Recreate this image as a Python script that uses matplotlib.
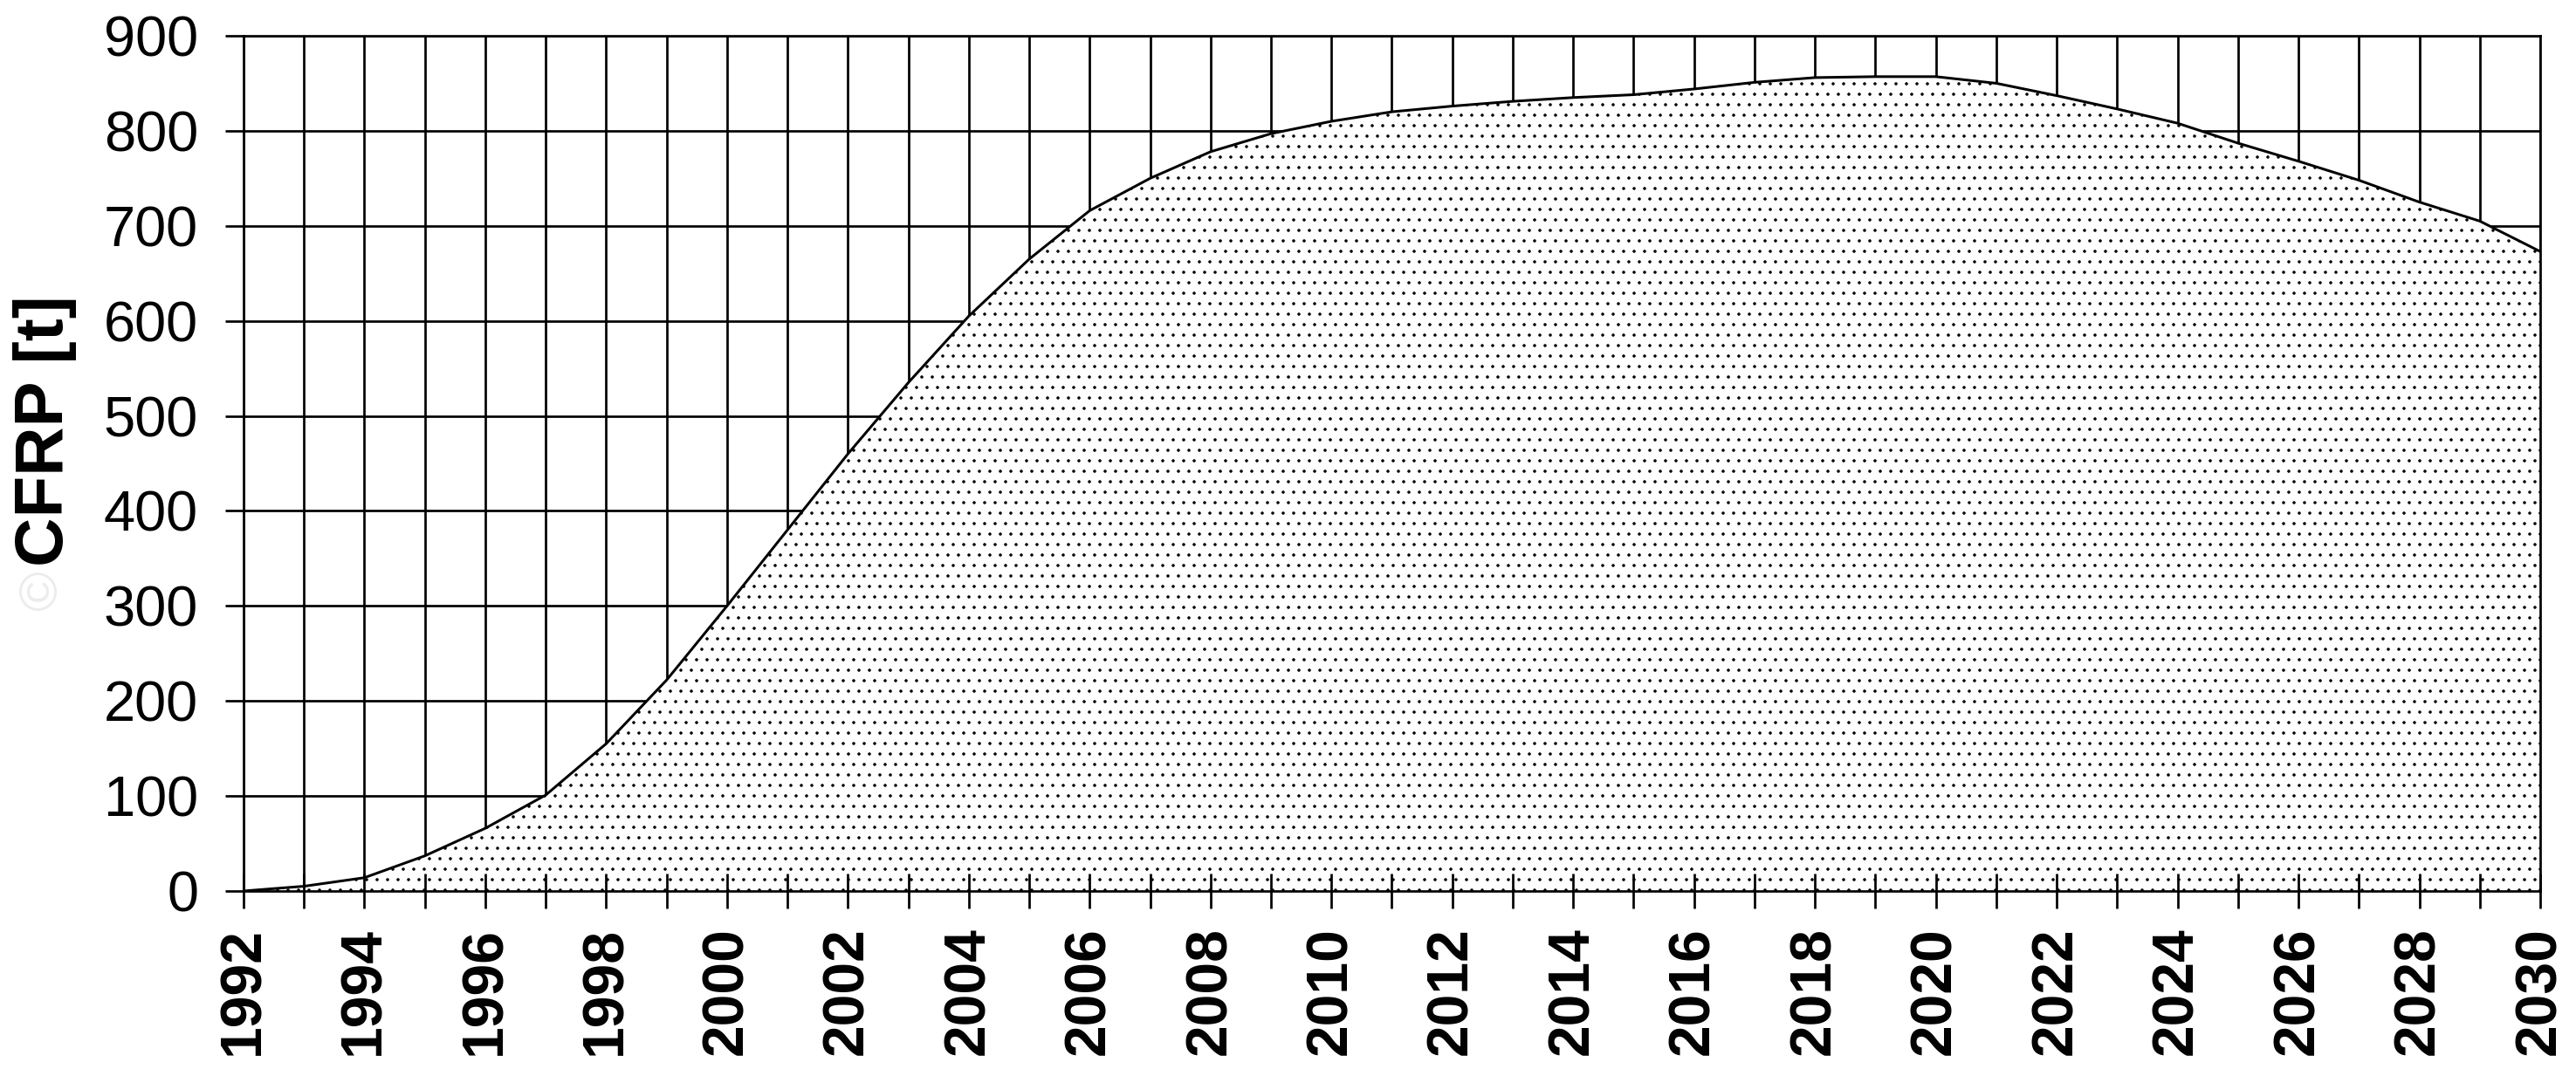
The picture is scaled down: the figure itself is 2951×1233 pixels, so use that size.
import matplotlib
matplotlib.use("Agg")
import matplotlib.pyplot as plt

# data
years = list(range(1992, 2031))
cfrp = [0, 5, 14, 37, 66, 101, 155, 222, 300, 380,
        460, 535, 605, 665, 716, 750, 778, 797, 810, 820,
        826, 831, 835, 838, 844, 851, 856, 857, 857, 850,
        837, 823, 808, 787, 768, 748, 725, 705, 673]
y_ticks = [0, 100, 200, 300, 400, 500, 600, 700, 800, 900]
x_labels = [str(y) if y % 2 == 0 else "" for y in years]

plt.rcParams['font.family'] = ['Liberation Sans', 'DejaVu Sans']
plt.rcParams['hatch.color'] = 'black'
plt.rcParams['hatch.linewidth'] = 1.1

DPI = 72
fig = plt.figure(figsize=(2951 / DPI, 1233 / DPI), dpi=DPI)
ax = fig.add_axes([279 / 2951, 1 - 1021 / 1233, (2910 - 279) / 2951, (1021 - 41) / 1233])

lw = 2.7
# grid lines sit below the dotted area
for yr in years:
    ax.axvline(yr, color='black', lw=lw, zorder=0.8)
for v in y_ticks:
    ax.axhline(v, color='black', lw=lw, zorder=0.8)

ax.fill_between(years, cfrp, 0, facecolor='white', edgecolor='black',
                hatch='.', linewidth=0, zorder=1.2)
ax.plot(years, cfrp, color='black', lw=3, zorder=2)

ax.set_xlim(years[0], years[-1])
ax.set_ylim(y_ticks[0], y_ticks[-1])

ax.set_xticks(years, labels=x_labels)
ax.set_yticks(y_ticks)
ax.tick_params(axis='x', direction='inout', length=40, width=lw, pad=21,
               labelsize=66, labelrotation=90)
ax.tick_params(axis='y', direction='out', length=21, width=lw, pad=31,
               labelsize=65)
for lab in ax.get_xticklabels():
    lab.set_fontweight('bold')

for sp in ax.spines.values():
    sp.set_linewidth(lw)
    sp.set_zorder(2.5)

fig.text(52 / 2951, 1 - 494 / 1233, "CFRP [t]", rotation=90, ha='center',
         va='center', fontsize=78, fontweight='bold')
fig.text(50 / 2951, 1 - 676 / 1233, "\u00a9", rotation=90, ha='center',
         va='center', fontsize=62, color='#ececec')

fig.savefig("out.png", dpi=DPI, facecolor='white')
